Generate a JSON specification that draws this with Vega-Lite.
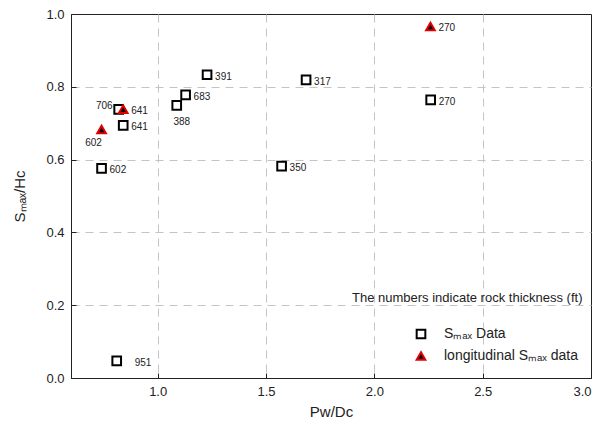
{
  "$schema": "https://vega.github.io/schema/vega-lite/v6.json",
  "width": 520,
  "height": 364,
  "autosize": {"type": "none"},
  "padding": {"left": 71, "top": 14, "right": 9, "bottom": 60},
  "background": "white",
  "data": {
    "values": [
      {"id": 1, "series": "Sₘₐₓ Data", "pd": 0.741, "sh": 0.576, "t": "602"},
      {"id": 2, "series": "Sₘₐₓ Data", "pd": 0.820, "sh": 0.738, "t": "706"},
      {"id": 3, "series": "Sₘₐₓ Data", "pd": 0.841, "sh": 0.694, "t": "641"},
      {"id": 4, "series": "Sₘₐₓ Data", "pd": 1.088, "sh": 0.749, "t": "388"},
      {"id": 5, "series": "Sₘₐₓ Data", "pd": 1.129, "sh": 0.778, "t": "683"},
      {"id": 6, "series": "Sₘₐₓ Data", "pd": 1.228, "sh": 0.833, "t": "391"},
      {"id": 7, "series": "Sₘₐₓ Data", "pd": 1.685, "sh": 0.819, "t": "317"},
      {"id": 8, "series": "Sₘₐₓ Data", "pd": 1.572, "sh": 0.582, "t": "350"},
      {"id": 9, "series": "Sₘₐₓ Data", "pd": 2.260, "sh": 0.764, "t": "270"},
      {"id": 10, "series": "Sₘₐₓ Data", "pd": 0.811, "sh": 0.047, "t": "951"},
      {"id": 11, "series": "longitudinal Sₘₐₓ data", "pd": 0.741, "sh": 0.683, "t": "602"},
      {"id": 12, "series": "longitudinal Sₘₐₓ data", "pd": 0.841, "sh": 0.738, "t": "641"},
      {"id": 13, "series": "longitudinal Sₘₐₓ data", "pd": 2.259, "sh": 0.966, "t": "270"}
    ]
  },
  "encoding": {
    "x": {
      "field": "pd", "type": "quantitative",
      "scale": {"domain": [0.6, 3.0], "nice": false, "zero": false},
      "axis": {
        "values": [1.0, 1.5, 2.0, 2.5, 3.0], "format": ".1f", "title": "Pw/Dc", "titlePadding": 6,
        "gridOpacity": {"condition": {"test": "datum.value >= 3", "value": 0}, "value": 1}
      }
    },
    "y": {
      "field": "sh", "type": "quantitative",
      "scale": {"domain": [0, 1.0], "nice": false},
      "axis": {
        "values": [0, 0.2, 0.4, 0.6, 0.8, 1.0], "format": ".1f", "title": "Sₘₐₓ/Hc", "titlePadding": 18,
        "gridOpacity": {"condition": {"test": "datum.value >= 1 || datum.value <= 0", "value": 0}, "value": 1}
      }
    }
  },
  "layer": [
    {
      "mark": {"type": "point", "filled": true, "opacity": 1, "strokeWidth": 2},
      "encoding": {
        "shape": {
          "field": "series", "type": "nominal", "title": "The numbers indicate rock thickness (ft)",
          "scale": {"domain": ["Sₘₐₓ Data", "longitudinal Sₘₐₓ data"], "range": ["square", "triangle-up"]}
        },
        "fill": {
          "field": "series", "type": "nominal", "title": "The numbers indicate rock thickness (ft)",
          "scale": {"domain": ["Sₘₐₓ Data", "longitudinal Sₘₐₓ data"], "range": ["white", "black"]}
        },
        "stroke": {
          "field": "series", "type": "nominal", "title": "The numbers indicate rock thickness (ft)",
          "scale": {"domain": ["Sₘₐₓ Data", "longitudinal Sₘₐₓ data"], "range": ["black", "#e00000"]}
        },
        "size": {"value": 75}
      }
    },
    {
      "transform": [{"filter": "indexof([2, 4, 10, 11], datum.id) < 0"}],
      "mark": {"type": "text", "align": "left", "baseline": "middle", "dx": 8, "dy": 2, "fontSize": 10, "font": "Liberation Sans", "color": "#222"},
      "encoding": {"text": {"field": "t"}}
    },
    {
      "transform": [{"filter": "datum.id == 10"}],
      "mark": {"type": "text", "align": "left", "baseline": "middle", "dx": 18, "dy": 2, "fontSize": 10, "font": "Liberation Sans", "color": "#222"},
      "encoding": {"text": {"field": "t"}}
    },
    {
      "transform": [{"filter": "datum.id == 2"}],
      "mark": {"type": "text", "align": "right", "baseline": "middle", "dx": -6, "dy": -3, "fontSize": 10, "font": "Liberation Sans", "color": "#222"},
      "encoding": {"text": {"field": "t"}}
    },
    {
      "transform": [{"filter": "datum.id == 4"}],
      "mark": {"type": "text", "align": "center", "baseline": "middle", "dx": 5, "dy": 17, "fontSize": 10, "font": "Liberation Sans", "color": "#222"},
      "encoding": {"text": {"field": "t"}}
    },
    {
      "transform": [{"filter": "datum.id == 11"}],
      "mark": {"type": "text", "align": "center", "baseline": "middle", "dx": -8, "dy": 14, "fontSize": 10, "font": "Liberation Sans", "color": "#222"},
      "encoding": {"text": {"field": "t"}}
    }
  ],
  "config": {
    "font": "Liberation Sans",
    "view": {"stroke": "#222", "strokeWidth": 1},
    "axis": {
      "domainColor": "#222",
      "tickColor": "#222",
      "tickSize": -5,
      "labelPadding": 12,
      "labelFont": "Liberation Sans",
      "labelFontSize": 13,
      "labelColor": "#222",
      "titleFont": "Liberation Sans",
      "titleFontSize": 15,
      "titleFontWeight": "normal",
      "titleColor": "#222",
      "gridColor": "#c4c4c4",
      "gridDash": [8, 6],
      "gridWidth": 1
    },
    "legend": {
      "orient": "none",
      "legendX": 281,
      "legendY": 278,
      "padding": 0,
      "titleFont": "Liberation Sans",
      "titleFontSize": 13,
      "titleFontWeight": "normal",
      "titleColor": "#222",
      "titlePadding": 22,
      "titleLimit": 500,
      "labelFont": "Liberation Sans",
      "labelFontSize": 14,
      "labelColor": "#222",
      "labelLimit": 300,
      "symbolOffset": 62,
      "labelOffset": 16,
      "rowPadding": 5,
      "symbolSize": 75,
      "symbolStrokeWidth": 2
    }
  }
}
